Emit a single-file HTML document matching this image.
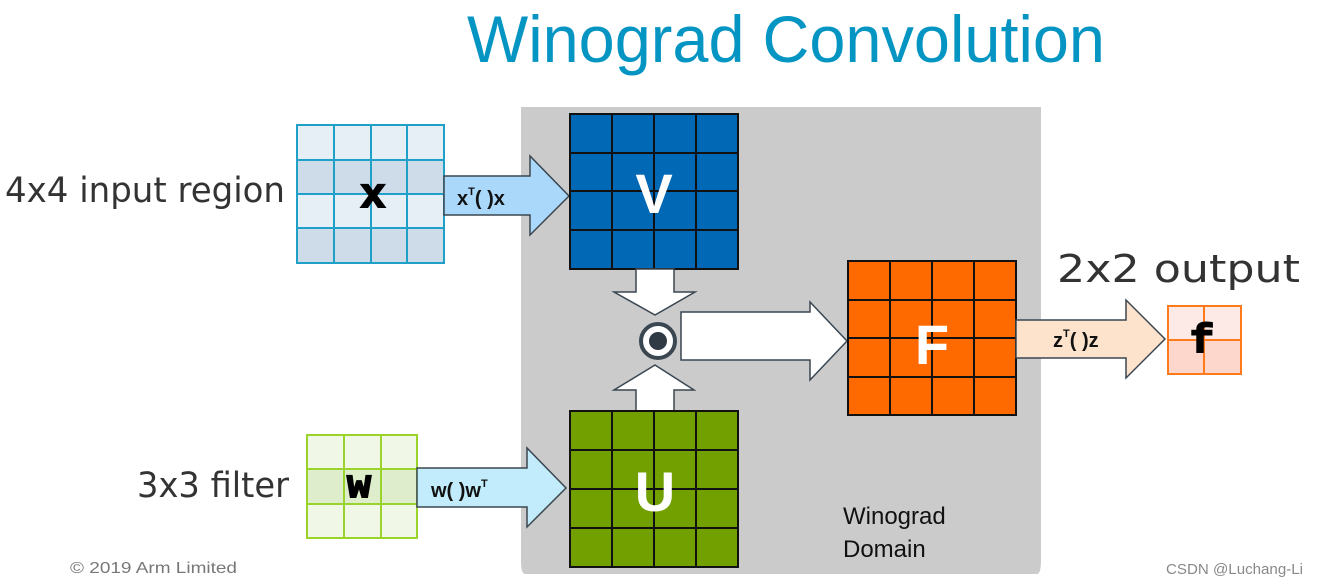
<!DOCTYPE html>
<html><head><meta charset="utf-8"><style>html,body{margin:0;padding:0;background:#fff}svg{display:block}</style></head>
<body>
<svg width="1317" height="588" viewBox="0 0 1317 588" xmlns="http://www.w3.org/2000/svg" font-family="Liberation Sans, sans-serif">
<rect x="0" y="0" width="1317" height="588" fill="#fff"/>
<text x="467" y="62" font-size="66" fill="#0595C3" textLength="638" lengthAdjust="spacingAndGlyphs">Winograd Convolution</text>
<path d="M521,107 H1041 V560 Q1041,574 1037,574 H525 Q521,574 521,560 Z" fill="#cbcbcb"/>
<text x="5" y="202" font-size="35" fill="#333" font-family="DejaVu Sans, sans-serif" textLength="280" lengthAdjust="spacingAndGlyphs">4x4 input region</text>
<text x="137" y="497" font-size="35" fill="#333" font-family="DejaVu Sans, sans-serif" textLength="152" lengthAdjust="spacingAndGlyphs">3x3 filter</text>
<text x="1057" y="282" font-size="38" fill="#333" font-family="DejaVu Sans, sans-serif" textLength="243" lengthAdjust="spacingAndGlyphs">2x2 output</text>
<text x="843" y="524" font-size="24" fill="#111">Winograd</text>
<text x="843" y="557" font-size="24" fill="#111">Domain</text>
<text x="70" y="573" font-size="16" fill="#777" textLength="167" lengthAdjust="spacingAndGlyphs">© 2019 Arm Limited</text>
<text x="1166" y="574" font-size="15" fill="#888" textLength="137" lengthAdjust="spacingAndGlyphs">CSDN @Luchang-Li</text>
<g>
<rect x="297" y="125" width="147" height="35" fill="#e6eef6"/>
<rect x="297" y="160" width="147" height="34" fill="#cddce8"/>
<rect x="297" y="194" width="147" height="34" fill="#e6eef6"/>
<rect x="297" y="228" width="147" height="35" fill="#cddce8"/>
<g stroke="#1ea0c8" stroke-width="2" fill="none">
<rect x="297" y="125" width="147" height="138"/>
<path d="M334,125V263M371,125V263M407,125V263M297,160H444M297,194H444M297,228H444"/>
</g>
<text x="373" y="207" font-size="42" font-weight="bold" font-family="Liberation Mono, monospace" text-anchor="middle" stroke="#000" stroke-width="2">x</text>
</g>
<path d="M444,176 H530 V156 L569,196 L530,235 V215 H444 Z" fill="#a9d8fb" stroke="#3a4650" stroke-width="1.5"/>
<text x="457" y="205" font-size="20" font-weight="bold" fill="#111">x<tspan font-size="11" dy="-10">T</tspan><tspan dy="10">( )x</tspan></text>
<rect x="570" y="114" width="168" height="155" fill="#0068b4" stroke="#111" stroke-width="2"/>
<path d="M612,114V269M654,114V269M696,114V269M570,153H738M570,191H738M570,230H738" stroke="#111" stroke-width="2"/>
<text x="654" y="213" font-size="56" font-weight="bold" fill="#fff" text-anchor="middle">V</text>
<path d="M636,269 V292 H614 L655,315 L695,292 H674 V269 Z" fill="#fff" stroke="#3a4650" stroke-width="1.5"/>
<circle cx="658" cy="341" r="17" fill="#fff" stroke="#3a4650" stroke-width="4"/>
<circle cx="658" cy="341" r="9" fill="#2f3a44"/>
<path d="M636,411 V390 H614 L655,365 L694,390 H674 V411 Z" fill="#fff" stroke="#3a4650" stroke-width="1.5"/>
<path d="M681,312 H810 V302 L847,341 L810,380 V360 H681 Z" fill="#fff" stroke="#3a4650" stroke-width="1.5"/>
<rect x="570" y="411" width="168" height="156" fill="#71a000" stroke="#111" stroke-width="2"/>
<path d="M612,411V567M654,411V567M696,411V567M570,450H738M570,489H738M570,528H738" stroke="#111" stroke-width="2"/>
<text x="655" y="511" font-size="56" font-weight="bold" fill="#fff" text-anchor="middle">U</text>
<rect x="307" y="435" width="110" height="103" fill="#f0f7e6"/>
<rect x="307" y="469" width="110" height="35" fill="#deedcc"/>
<g stroke="#9ad42a" stroke-width="2" fill="none">
<rect x="307" y="435" width="110" height="103"/>
<path d="M344,435V538M381,435V538M307,469H417M307,504H417"/>
</g>
<text x="359" y="497" font-size="40" font-weight="bold" font-family="Liberation Mono, monospace" text-anchor="middle" stroke="#000" stroke-width="2">w</text>
<path d="M417,468 H527 V448 L566,488 L527,527 V507 H417 Z" fill="#c2ecfb" stroke="#3a4650" stroke-width="1.5"/>
<text x="431" y="497" font-size="20" font-weight="bold" fill="#111">w( )w<tspan font-size="11" dy="-10">T</tspan></text>
<rect x="848" y="261" width="168" height="154" fill="#ff6a00" stroke="#111" stroke-width="2"/>
<path d="M890,261V415M932,261V415M974,261V415M848,300H1016M848,338H1016M848,377H1016" stroke="#111" stroke-width="2"/>
<text x="932" y="364" font-size="56" font-weight="bold" fill="#fff" text-anchor="middle">F</text>
<path d="M1016,320 H1126 V300 L1165,339 L1126,378 V358 H1016 Z" fill="#fde2cc" stroke="#3a4650" stroke-width="1.5"/>
<text x="1053" y="347" font-size="20" font-weight="bold" fill="#111">z<tspan font-size="11" dy="-10">T</tspan><tspan dy="10">( )z</tspan></text>
<rect x="1168" y="306" width="73" height="34" fill="#fde9e6"/>
<rect x="1168" y="340" width="73" height="34" fill="#fdd6cc"/>
<g stroke="#ff7a1a" stroke-width="2" fill="none">
<rect x="1168" y="306" width="73" height="68"/>
<path d="M1204,306V374M1168,340H1241"/>
</g>
<text x="1202" y="352" font-size="40" font-weight="bold" font-family="Liberation Mono, monospace" text-anchor="middle" stroke="#000" stroke-width="2">f</text>
</svg>
</body></html>
